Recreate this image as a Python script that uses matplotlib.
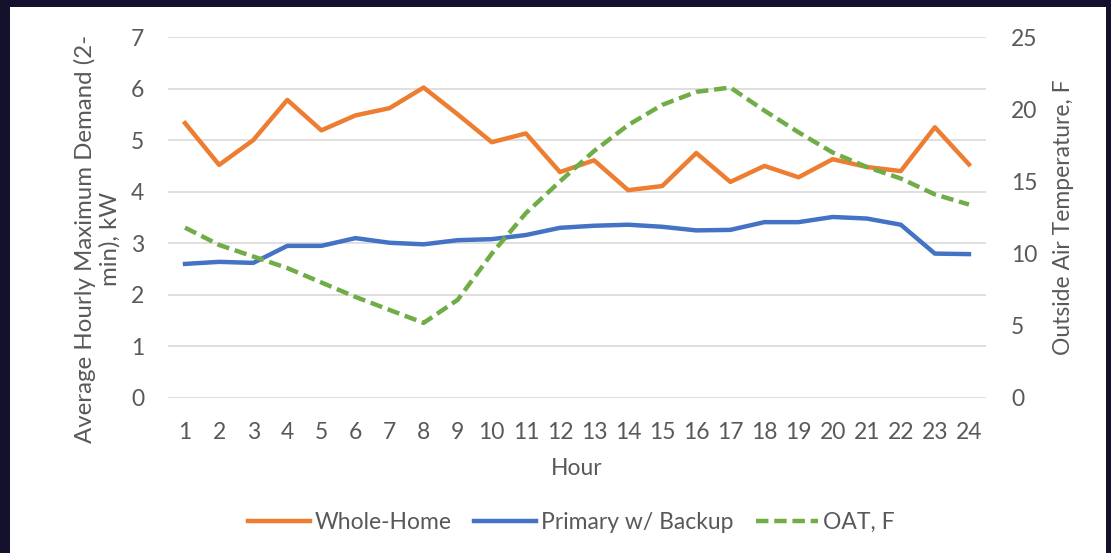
import matplotlib.pyplot as plt
from matplotlib.patches import Rectangle

hours = list(range(1, 25))
whole_home = [5.33, 4.52, 5.00, 5.78, 5.19, 5.48, 5.62, 6.02, 5.50, 4.96, 5.13, 4.38,
              4.61, 4.03, 4.11, 4.75, 4.19, 4.50, 4.28, 4.63, 4.48, 4.40, 5.25, 4.53]
primary_backup = [2.60, 2.64, 2.62, 2.95, 2.95, 3.10, 3.01, 2.98, 3.06, 3.08, 3.16, 3.30,
                  3.34, 3.36, 3.32, 3.25, 3.26, 3.41, 3.41, 3.51, 3.48, 3.36, 2.80, 2.79]
oat = [11.8, 10.6, 9.8, 9.0, 8.0, 7.0, 6.1, 5.2, 6.8, 10.0, 12.8, 15.0,
       17.1, 18.9, 20.3, 21.2, 21.5, 19.9, 18.4, 17.0, 16.0, 15.2, 14.1, 13.4]

ORANGE = "#ED7D31"
BLUE = "#4472C4"
GREEN = "#70AD47"
GREY = "#595959"
FS = 16.5

plt.rcParams['font.family'] = ['Lato', 'DejaVu Sans']

fig = plt.figure(figsize=(11.11, 5.53), dpi=100)
fig.patch.set_facecolor("#13112b")
# white chart area inside the dark slide border
fig.patches.append(Rectangle((10 / 1111, 0), 1096 / 1111, 546 / 553,
                             transform=fig.transFigure, facecolor="white",
                             edgecolor="none", zorder=-10))

ax = fig.add_axes([168 / 1111, 155 / 553, 818 / 1111, 361 / 553])
ax2 = ax.twinx()
ax.set_facecolor("none")

l1, = ax.plot(hours, whole_home, color=ORANGE, lw=3.2, label="Whole-Home", zorder=3)
l2, = ax.plot(hours, primary_backup, color=BLUE, lw=3.2, label="Primary w/ Backup", zorder=3)
l3, = ax2.plot(hours, oat, color=GREEN, lw=3.2, ls=(0, (2.8, 1.3)), label="OAT, F")

ax.set_xlim(0.5, 24.5)
ax.set_ylim(0, 7)
ax2.set_ylim(0, 25)
ax.set_xticks(hours)
ax.set_yticks(range(0, 8))
ax2.set_yticks(range(0, 26, 5))

ax.grid(axis="y", color="#d9d9d9", lw=1.2)
ax.set_axisbelow(True)
for a in (ax, ax2):
    for s in a.spines.values():
        s.set_visible(False)
    a.tick_params(length=0, colors=GREY, labelsize=FS)
ax.tick_params(axis="y", pad=17)
ax.tick_params(axis="x", pad=17)
ax2.tick_params(axis="y", pad=18)

ax.set_xlabel("Hour", color=GREY, fontsize=FS, labelpad=11)
ax.set_ylabel("Average Hourly Maximum Demand (2-\nmin), kW", color=GREY, fontsize=17.3,
              linespacing=1.15)
ax.yaxis.set_label_coords(-0.058, 0.44)
ax2.set_ylabel("Outside Air Temperature, F", color=GREY, fontsize=FS, labelpad=11)

fig.legend(handles=[l1, l2, l3], loc="center", bbox_to_anchor=(0.514, 0.056), ncol=3,
           frameon=False, fontsize=FS, labelcolor=GREY, handlelength=2.7,
           handletextpad=0.2, columnspacing=1.0)

fig.savefig("out.png", dpi=100, facecolor=fig.get_facecolor())
